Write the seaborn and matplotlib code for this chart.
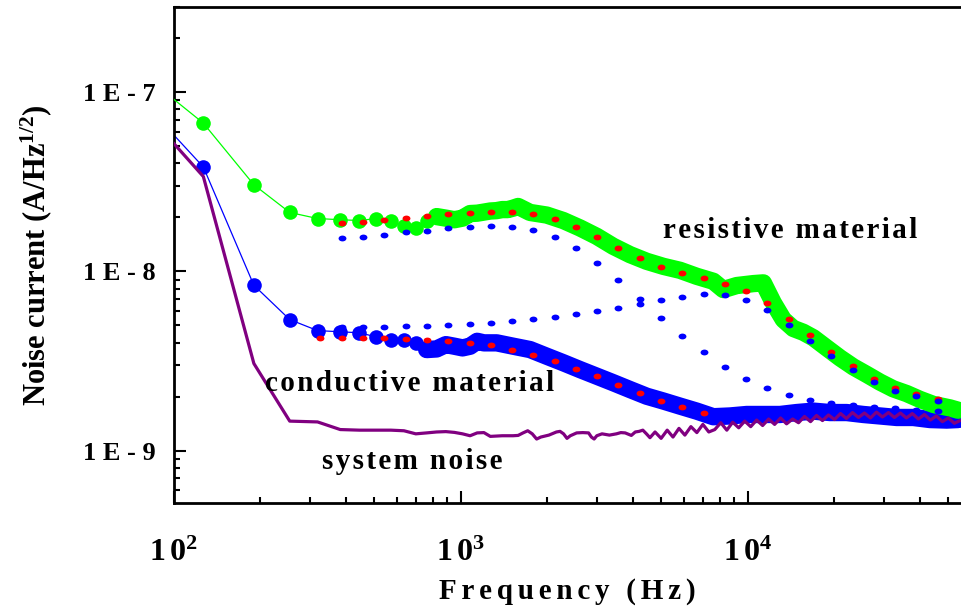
import numpy as np
import pandas as pd
import matplotlib
matplotlib.use("Agg")
import matplotlib.pyplot as plt
import seaborn as sns
from matplotlib.markers import MarkerStyle
from matplotlib.transforms import Affine2D
from matplotlib.ticker import FixedLocator, NullFormatter, FixedFormatter

# ---------------- data ----------------
res_freq = [63.5, 127, 190.5, 254, 317.5, 381, 444.5, 508, 571.5, 635, 698.5, 762,
            825.5, 889, 952.5, 1016, 1079.5, 1143, 1206.5, 1270, 1333.5, 1397, 1460.5,
            1524, 1587.5, 1747, 1997, 2281, 2609, 2983, 3407, 3896, 4455, 5089, 5819,
            6653, 7600, 8237, 9171, 10477, 11354, 12302, 13330, 14440, 15646, 16957,
            18880, 21006, 23371, 26024, 28953, 32211, 35865, 39902, 44394, 50778, 54124]
res_vals = [1.64e-7, 6.71e-8, 3.04e-8, 2.13e-8, 1.97e-8, 1.94e-8, 1.92e-8, 1.97e-8,
            1.92e-8, 1.78e-8, 1.745e-8, 1.92e-8, 2.02e-8, 1.98e-8, 1.94e-8, 1.98e-8,
            2.10e-8, 2.11e-8, 2.14e-8, 2.17e-8, 2.18e-8, 2.21e-8, 2.21e-8, 2.25e-8,
            2.30e-8, 2.13e-8, 2.06e-8, 1.92e-8, 1.745e-8, 1.567e-8, 1.378e-8, 1.239e-8,
            1.137e-8, 1.066e-8, 1.013e-8, 9.38e-9, 8.80e-9, 7.91e-9, 8.33e-9, 8.54e-9,
            8.62e-9, 6.67e-9, 5.38e-9, 4.80e-9, 4.57e-9, 4.26e-9, 3.74e-9, 3.29e-9,
            2.93e-9, 2.66e-9, 2.41e-9, 2.21e-9, 2.08e-9, 1.93e-9, 1.81e-9, 1.73e-9, 1.68e-9]

cond_freq = [63.5, 127, 190.5, 254, 317.5, 381, 444.5, 508, 571.5, 635, 698.5, 762,
             825.5, 889, 952.5, 1016, 1079.5, 1143, 1206.5, 1337, 1528, 1747, 1997, 2281,
             2609, 2983, 3407, 3896, 4455, 5089, 5819, 6653, 7600, 8690, 9937, 11354,
             12981, 14836, 16957, 19387, 22157, 25324, 28953, 33109, 37809, 43232,
             49431, 54124]
cond_vals = [1.27e-7, 3.82e-8, 8.36e-9, 5.38e-9, 4.67e-9, 4.60e-9, 4.54e-9, 4.31e-9,
             4.16e-9, 4.16e-9, 3.99e-9, 3.66e-9, 3.69e-9, 3.90e-9, 3.82e-9, 3.74e-9,
             3.82e-9, 4.07e-9, 3.99e-9, 3.99e-9, 3.82e-9, 3.66e-9, 3.36e-9, 3.09e-9,
             2.83e-9, 2.60e-9, 2.39e-9, 2.19e-9, 2.01e-9, 1.89e-9, 1.77e-9, 1.66e-9,
             1.545e-9, 1.56e-9, 1.59e-9, 1.59e-9, 1.59e-9, 1.63e-9, 1.66e-9, 1.63e-9,
             1.63e-9, 1.59e-9, 1.56e-9, 1.53e-9, 1.53e-9, 1.49e-9, 1.48e-9, 1.49e-9]

sys_freq = [63.5, 127, 190.5, 254, 317.5, 381, 444.5, 508, 571.5, 635, 698.5, 762,
            825.5, 889, 952.5, 1016, 1079.5, 1143, 1206.5, 1270, 1397, 1524, 1587.5,
            1651, 1714.5, 1778, 1841.5, 1905, 2032, 2159, 2222.5, 2286, 2349.5, 2413,
            2540, 2667, 2794, 2857.5, 2921, 2984.5, 3111.5, 3302, 3492.5, 3619.5,
            3746.5, 3937, 4064, 4191, 4318, 4445, 4572, 4762.5,
            5000, 5250, 5500, 5770, 6050, 6350, 6660, 6990, 7330, 7690, 8070, 8470,
            8880, 9320, 9780, 10260, 10760, 11290, 11850, 12430, 13040, 13680, 14360,
            15060, 15800, 16580, 17400, 18250, 19150, 20100, 21090, 22120, 23210,
            24360, 25560, 26820, 28140, 29520, 30980, 32500, 34100, 35780, 37540,
            39390, 41340, 43370, 45510, 47750, 50100, 52570, 55000]
sys_vals = [1.17e-7, 3.38e-8, 3.06e-9, 1.46e-9, 1.445e-9, 1.31e-9, 1.30e-9, 1.30e-9,
            1.30e-9, 1.29e-9, 1.24e-9, 1.255e-9, 1.27e-9, 1.276e-9, 1.263e-9, 1.24e-9,
            1.21e-9, 1.255e-9, 1.26e-9, 1.20e-9, 1.21e-9, 1.21e-9, 1.215e-9, 1.255e-9,
            1.29e-9, 1.24e-9, 1.16e-9, 1.19e-9, 1.22e-9, 1.27e-9, 1.28e-9, 1.24e-9,
            1.17e-9, 1.21e-9, 1.255e-9, 1.26e-9, 1.255e-9, 1.19e-9, 1.16e-9, 1.21e-9,
            1.24e-9, 1.22e-9, 1.24e-9, 1.26e-9, 1.255e-9, 1.215e-9, 1.27e-9, 1.28e-9,
            1.30e-9, 1.24e-9, 1.18e-9, 1.27e-9,
            1.17e-9, 1.30e-9, 1.19e-9, 1.33e-9, 1.22e-9, 1.36e-9, 1.26e-9, 1.40e-9,
            1.27e-9, 1.31e-9, 1.43e-9, 1.30e-9, 1.44e-9, 1.34e-9, 1.46e-9, 1.36e-9,
            1.48e-9, 1.38e-9, 1.50e-9, 1.40e-9, 1.52e-9, 1.41e-9, 1.50e-9, 1.43e-9,
            1.55e-9, 1.45e-9, 1.57e-9, 1.47e-9, 1.58e-9, 1.49e-9, 1.61e-9, 1.51e-9,
            1.63e-9, 1.53e-9, 1.62e-9, 1.52e-9, 1.64e-9, 1.54e-9, 1.63e-9, 1.53e-9,
            1.62e-9, 1.52e-9, 1.61e-9, 1.50e-9, 1.59e-9, 1.48e-9, 1.56e-9, 1.45e-9,
            1.52e-9, 1.42e-9, 1.47e-9]

fit_freq = [385, 457, 542, 644, 764, 906, 1075, 1275, 1512, 1794, 2128, 2524, 2994,
            3551, 4212, 4996, 5926, 7029, 8338, 9890, 11731, 13914, 16505, 19577,
            23222, 27545, 32673, 38756, 45971]
res_fit = [1.861e-8, 1.885e-8, 1.924e-8, 1.974e-8, 2.025e-8, 2.078e-8, 2.123e-8,
           2.151e-8, 2.142e-8, 2.078e-8, 1.949e-8, 1.763e-8, 1.551e-8, 1.352e-8,
           1.181e-8, 1.055e-8, 9.77e-9, 9.17e-9, 8.52e-9, 7.76e-9, 6.63e-9, 5.43e-9,
           4.40e-9, 3.57e-9, 2.96e-9, 2.52e-9, 2.22e-9, 2.06e-9, 1.93e-9]
res_comp1 = [1.527e-8, 1.561e-8, 1.602e-8, 1.650e-8, 1.686e-8, 1.737e-8, 1.775e-8,
             1.798e-8, 1.775e-8, 1.701e-8, 1.557e-8, 1.347e-8, 1.115e-8, 8.91e-9,
             7.02e-9, 5.51e-9, 4.37e-9, 3.54e-9, 2.93e-9, 2.52e-9, 2.24e-9, 2.05e-9,
             1.92e-9, 1.84e-9, 1.79e-9, 1.75e-9, 1.72e-9, 1.69e-9, 1.66e-9]
res_comp2 = [4.86e-9, 4.89e-9, 4.90e-9, 4.94e-9, 4.98e-9, 5.03e-9, 5.11e-9, 5.18e-9,
             5.29e-9, 5.42e-9, 5.58e-9, 5.76e-9, 6.00e-9, 6.28e-9, 6.61e-9, 6.90e-9,
             7.23e-9, 7.43e-9, 7.35e-9, 6.94e-9, 6.06e-9, 5.00e-9, 4.11e-9, 3.38e-9,
             2.83e-9, 2.42e-9, 2.14e-9, 2.01e-9, 1.89e-9]
cond_fit_freq = [325, 385, 457, 542, 644, 764, 906, 1075, 1275, 1512, 1794, 2128,
                 2524, 2994, 3551, 4212, 4996, 5926, 7029]
cond_fit = [4.23e-9, 4.23e-9, 4.23e-9, 4.22e-9, 4.19e-9, 4.15e-9, 4.08e-9, 3.99e-9,
            3.86e-9, 3.66e-9, 3.43e-9, 3.18e-9, 2.87e-9, 2.59e-9, 2.33e-9, 2.10e-9,
            1.90e-9, 1.74e-9, 1.62e-9]

ytick_vals = [1e-9, 1e-8, 1e-7]
ytick_labels = ["1E-9", "1E-8", "1E-7"]
xtick_vals = [1e2, 1e3, 1e4]
xtick_exps = ["2", "3", "4"]
annotations = ["resistive material", "conductive material", "system noise"]

# ---------------- style ----------------
sns.set_theme(style="ticks")
plt.rcParams['font.family'] = ['Liberation Serif', 'DejaVu Serif']
plt.rcParams['font.weight'] = 'bold'
plt.rcParams['text.color'] = 'black'
plt.rcParams['axes.labelcolor'] = 'black'
plt.rcParams['xtick.color'] = 'black'
plt.rcParams['ytick.color'] = 'black'
plt.rcParams['mathtext.fontset'] = 'custom'
plt.rcParams['mathtext.rm'] = 'Liberation Serif:bold'
plt.rcParams['mathtext.bf'] = 'Liberation Serif:bold'
plt.rcParams['mathtext.it'] = 'Liberation Serif:bold:italic'

GREEN, BLUE, RED, PURPLE = "#00ff00", "#0000ff", "#ff0000", "#800080"
HAIR = "\u200a"

def spaced(s, sep=HAIR):
    return sep.join(s)

fig = plt.figure(figsize=(9.62, 6.10), dpi=100)
ax = fig.add_axes([0.1804, 0.1754, 0.8196, 0.8139])
ax.set_xscale("log")
ax.set_yscale("log")

def measured(freq, vals, color, band_from, z):
    df = pd.DataFrame({"f": freq, "v": vals})
    sns.lineplot(data=df, x="f", y="v", ax=ax, color=color, lw=0.9, marker="o",
                 ms=10.5, mew=0, estimator=None, sort=False, zorder=z)
    dense = df[df["f"] >= band_from]
    sns.lineplot(data=dense, x="f", y="v", ax=ax, color=color, lw=12.5,
                 estimator=None, sort=False, solid_capstyle="round",
                 solid_joinstyle="round", zorder=z)

measured(cond_freq, cond_vals, BLUE, 700, 2)
measured(res_freq, res_vals, GREEN, 800, 3)

sns.lineplot(x=sys_freq, y=sys_vals, ax=ax, color=PURPLE, lw=2.3, estimator=None,
             sort=False, zorder=4)

dot = MarkerStyle("o", transform=Affine2D().scale(1.35, 1.0))
for xs, ys, col in [(fit_freq, res_fit, RED), (cond_fit_freq, cond_fit, RED),
                    (fit_freq, res_comp1, BLUE), (fit_freq, res_comp2, BLUE)]:
    sns.lineplot(x=xs, y=ys, ax=ax, color=col, linestyle="none", marker=dot, ms=4.2,
                 mew=0, estimator=None, sort=False, zorder=5)

ax.set_xlim(100, 55900)
ax.set_ylim(5.1e-10, 3.0e-7)

# ticks
ax.xaxis.set_major_locator(FixedLocator(xtick_vals))
ax.xaxis.set_major_formatter(FixedFormatter(
    [r"$\mathbf{1\,0^{%s}}$" % e for e in xtick_exps]))
minor_x = [m * 10 ** d for d in range(2, 5) for m in range(2, 10)]
ax.xaxis.set_minor_locator(FixedLocator(minor_x))
ax.xaxis.set_minor_formatter(NullFormatter())
ax.yaxis.set_major_locator(FixedLocator(ytick_vals))
ax.yaxis.set_major_formatter(FixedFormatter([spaced(t, " ") for t in ytick_labels]))
minor_y = [m * 10.0 ** d for d in range(-10, -6) for m in range(2, 10)]
ax.yaxis.set_minor_locator(FixedLocator(minor_y))
ax.yaxis.set_minor_formatter(NullFormatter())

ax.tick_params(which="both", direction="in", colors="black", width=1.5,
               top=False, right=False)
ax.tick_params(which="major", length=8.5)
ax.tick_params(which="minor", length=4.5)
ax.tick_params(axis="y", which="major", pad=13, labelsize=19, labelcolor="black")
ax.tick_params(axis="x", which="major", pad=26, labelsize=23, labelcolor="black")
for lab in ax.get_yticklabels() + ax.get_xticklabels():
    lab.set_fontweight("bold")

for side in ["left", "bottom", "top"]:
    ax.spines[side].set_linewidth(2.0)
    ax.spines[side].set_color("black")
ax.spines["right"].set_visible(False)

ax.set_xlabel(spaced("Frequency (Hz)", HAIR + HAIR), fontsize=21, fontweight="bold",
              labelpad=7, color="black")
ax.set_ylabel(r"Noise current (A/Hz$^{1/2}$)", fontsize=22, fontweight="bold",
              labelpad=21, color="black")

fig.text(663 / 962, 1 - 238 / 610, spaced(annotations[0]), fontsize=21,
         fontweight="bold", ha="left", va="baseline", color="black")
fig.text(265 / 962, 1 - 391 / 610, spaced(annotations[1]), fontsize=21,
         fontweight="bold", ha="left", va="baseline", color="black")
fig.text(322 / 962, 1 - 469 / 610, spaced(annotations[2]), fontsize=21,
         fontweight="bold", ha="left", va="baseline", color="black")

fig.savefig("out.png", dpi=100, facecolor="white")
